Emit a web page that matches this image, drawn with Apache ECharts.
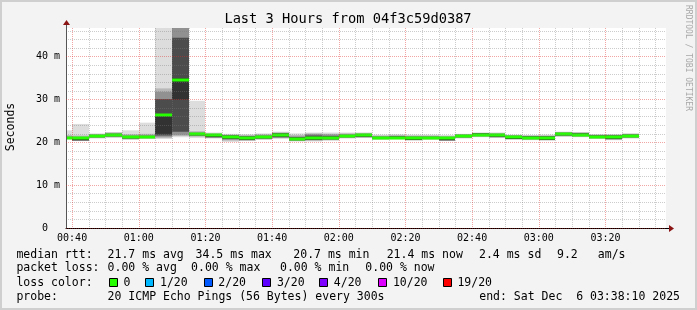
<!DOCTYPE html>
<html><head><meta charset="utf-8">
<script src="https://cdn.jsdelivr.net/npm/echarts@6/dist/echarts.min.js"></script>
<style>html,body{margin:0;padding:0;background:#f3f3f3}#main{width:697px;height:310px}</style>
</head><body><div id="main"></div>
<script>
// ---------- data ----------
const timeStart = "00:38:10";
const timeEnd = "03:38:10";
const binEnd = ["00:40","00:45","00:50","00:55","01:00","01:05","01:10","01:15","01:20","01:25",
  "01:30","01:35","01:40","01:45","01:50","01:55","02:00","02:05","02:10","02:15",
  "02:20","02:25","02:30","02:35","02:40","02:45","02:50","02:55","03:00","03:05",
  "03:10","03:15","03:20","03:25","03:30"];
const median = [21.0,21.0,21.5,21.8,21.2,21.2,26.4,34.5,21.9,21.6,
  21.3,21.1,21.2,21.8,20.7,21.0,21.0,21.4,21.6,21.0,
  21.1,21.0,21.0,20.9,21.4,21.8,21.6,21.2,21.1,21.1,
  21.9,21.8,21.3,21.3,21.5];
// sorted ping quantiles per bin (ms), lowest to highest
const smoke = [
  [20.7,20.8,20.8,20.9,20.9,21.1,21.2,21.4,21.7,22.8],
  [20.3,20.4,20.4,20.5,20.5,21.1,21.2,21.3,21.6,24.3],
  [20.9,21.0,21.1,21.2,21.3,21.6,21.7,21.8,21.9,22.1],
  [21.0,21.2,21.3,21.4,21.5,21.9,22.0,22.1,22.3,22.4],
  [20.6,20.7,20.8,20.9,21.0,21.4,21.5,21.6,21.9,22.8],
  [20.8,20.9,21.0,21.0,21.1,21.4,21.5,21.7,22.0,24.6],
  [20.8,21.0,21.3,21.6,22.0,26.6,30.1,31.8,32.6,48.0],
  [21.2,21.5,21.8,22.5,30.0,35.0,44.4,48.0,48.0,48.0],
  [21.0,21.3,21.5,21.6,21.7,22.1,22.2,22.3,22.6,29.7],
  [20.9,21.0,21.1,21.2,21.3,21.7,21.8,21.9,22.1,22.3],
  [20.1,20.4,20.6,20.8,20.9,21.5,21.6,21.7,21.8,22.0],
  [20.3,20.4,20.5,20.6,20.6,21.3,21.4,21.5,21.7,21.9],
  [20.6,20.7,20.8,20.9,21.0,21.4,21.5,21.7,21.9,22.1],
  [20.8,21.0,21.1,21.2,21.4,22.0,22.1,22.2,22.3,22.5],
  [20.2,20.3,20.4,20.5,20.6,21.1,21.2,21.4,21.7,22.1],
  [20.2,20.4,20.5,20.6,20.6,21.2,21.6,21.9,22.1,22.3],
  [20.4,20.5,20.6,20.7,20.8,21.2,21.5,21.8,22.0,22.3],
  [20.9,21.0,21.1,21.2,21.3,21.6,21.7,21.9,22.1,22.3],
  [21.0,21.1,21.2,21.3,21.4,21.8,21.9,22.0,22.2,22.3],
  [20.6,20.7,20.8,20.8,20.9,21.2,21.3,21.4,21.6,21.8],
  [20.7,20.8,20.9,20.9,21.0,21.3,21.4,21.5,21.7,21.9],
  [20.4,20.5,20.6,20.6,20.6,21.2,21.3,21.4,21.6,21.8],
  [20.6,20.7,20.8,20.8,20.9,21.2,21.3,21.4,21.6,21.8],
  [20.3,20.4,20.5,20.5,20.5,21.1,21.2,21.3,21.5,21.7],
  [20.9,21.0,21.1,21.2,21.3,21.6,21.7,21.8,21.9,22.0],
  [21.2,21.3,21.4,21.5,21.6,22.0,22.1,22.1,22.2,22.3],
  [21.0,21.1,21.2,21.3,21.4,21.8,21.9,22.0,22.2,22.3],
  [20.6,20.7,20.8,20.8,20.8,21.4,21.5,21.6,21.7,21.8],
  [20.5,20.6,20.7,20.8,20.9,21.3,21.4,21.5,21.6,21.7],
  [20.4,20.5,20.6,20.6,20.6,21.3,21.4,21.5,21.6,21.8],
  [21.3,21.4,21.5,21.6,21.7,22.1,22.2,22.3,22.4,22.5],
  [21.2,21.3,21.4,21.5,21.6,22.0,22.1,22.2,22.3,22.4],
  [20.8,20.9,21.0,21.0,21.1,21.5,21.6,21.7,21.8,21.9],
  [20.5,20.6,20.7,20.8,20.9,21.5,21.6,21.7,21.8,21.9],
  [20.9,21.0,21.1,21.2,21.3,21.7,21.8,21.9,22.0,22.1]
];
const xMajorTicks = ["00:40","01:00","01:20","01:40","02:00","02:20","02:40","03:00","03:20"];
const yMajorTicks = [0,10,20,30,40];
const yMax = 46.7;
const stepMin = 5;
const lossLabels = ["0","1/20","2/20","3/20","4/20","10/20","19/20"];
const lossColors = ["#26ff00","#00b8ff","#0059ff","#5e00ff","#7e00ff","#dd00ff","#ff0000"];
const rttStats = ["21.7 ms avg","34.5 ms max","20.7 ms min","21.4 ms now","2.4 ms sd","9.2","am/s"];
const lossStats = ["0.00 % avg","0.00 % max","0.00 % min","0.00 % now"];
const titleText = "Last 3 Hours from 04f3c59d0387";
const probeText = "20 ICMP Echo Pings (56 Bytes) every 300s";
const endText = "end: Sat Dec  6 03:38:10 2025";
// ---------- helpers ----------
function toMin(s){const p=s.split(':').map(Number);return p[0]*60+p[1]+(p[2]||0)/60;}
function fmtMin(v){const h=Math.floor(v/60),m=Math.round(v-h*60);return String(h).padStart(2,'0')+':'+String(m).padStart(2,'0');}
const xMin = toMin(timeStart), xMax = toMin(timeEnd);
const xMajor = xMajorTicks.map(toMin);
const xMinor = []; for(let t=40;t<xMax;t+=stepMin){ if(xMajor.indexOf(t)<0) xMinor.push(t); }
const yMinor = []; for(let v=2;v<yMax;v+=2){ if(v%10!==0) yMinor.push(v); }
const bandColors = ['#dddddd','#b7b7b7','#919191','#4c4c4c','#323232'];
const L=66,T=28,W=600,H=200;
const MONO='"DejaVu Sans Mono"';
const minorGrid={show:true,lineStyle:{color:'rgba(120,120,120,0.38)',width:1,type:[1,1]}};
const majorGrid={show:true,lineStyle:{color:'rgba(225,40,40,0.42)',width:1,type:[1,1]}};

const chart = echarts.init(document.getElementById('main'));
const data = binEnd.map((t,i)=>[toMin(t), median[i]]);

const graphic = [];
// frame
graphic.push({type:'rect',shape:{x:1,y:1,width:695,height:308},style:{fill:null,stroke:'#cfcfcf',lineWidth:2},z:100});
// title
graphic.push({type:'text',x:348,y:19,style:{text:titleText,font:'13.7px '+MONO,fill:'#000',align:'center',verticalAlign:'middle'},z:100});
// y name
graphic.push({type:'text',x:11,y:127,rotation:Math.PI/2,style:{text:'Seconds',font:'11.5px '+MONO,fill:'#000',align:'center',verticalAlign:'middle'},z:100});
// watermark
graphic.push({type:'text',x:688,y:58,rotation:-Math.PI/2,style:{text:'RRDTOOL / TOBI OETIKER',font:'8px '+MONO,fill:'#a8a8a8',align:'center',verticalAlign:'middle'},z:100});
// axis extensions & arrows
graphic.push({type:'line',shape:{x1:L+W,y1:T+H+0.5,x2:L+W+4,y2:T+H+0.5},style:{stroke:'#000',lineWidth:1},z:100});
graphic.push({type:'polygon',shape:{points:[[L+W+3,T+H-3],[L+W+8,T+H+0.5],[L+W+3,T+H+4]]},style:{fill:'#8b1414'},z:100});
graphic.push({type:'line',shape:{x1:L+0.5,y1:T,x2:L+0.5,y2:T-4},style:{stroke:'#555',lineWidth:1},z:100});
graphic.push({type:'polygon',shape:{points:[[L-3,T-3],[L+0.5,T-8],[L+4,T-3]]},style:{fill:'#8b1414'},z:100});
// legend lines
const font='11.5px '+MONO;
function txt(s,x,y,align){graphic.push({type:'text',x:x,y:y,style:{text:s,font:font,fill:'#000',align:align||'left',verticalAlign:'middle'},z:100});}
const ly=[254.7,268.5,282.7,296.7];
txt('median rtt:',16.4,ly[0]);
[107.6,195.6,293.3,386.7,479,557,597.8].forEach((x,i)=>txt(rttStats[i],x,ly[0]));
txt('packet loss:',16.4,ly[1]);
[107.6,191.1,280,365.3].forEach((x,i)=>txt(lossStats[i],x,ly[1]));
txt('loss color:',16.4,ly[2]);
const boxX=[108.9,145.3,203.6,262.2,319.1,378.2,442.7];
lossLabels.forEach((lab,i)=>{
  graphic.push({type:'rect',shape:{x:Math.round(boxX[i])+0.5,y:278.5,width:8,height:8},style:{fill:lossColors[i],stroke:'#000',lineWidth:1},z:100});
  txt(lab,boxX[i]+14.7,ly[2]);
});
txt('probe:',16.4,ly[3]);
txt(probeText,107.6,ly[3]);
txt(endText,680,ly[3],'right');

const axisFont={fontFamily:MONO,fontSize:10,color:'#000'};
chart.setOption({
  backgroundColor:'#f3f3f3',
  animation:false,
  grid:{left:L,top:T,width:W,height:H,show:true,backgroundColor:'#ffffff',borderWidth:0,containLabel:false,outerBoundsMode:'none'},
  xAxis:[
    {type:'value',min:xMin,max:xMax,position:'bottom',z:5,
     axisLine:{show:true,onZero:false,lineStyle:{color:'#000',width:1}},
     axisTick:{show:false,customValues:xMinor},axisLabel:{show:false},splitLine:minorGrid},
    {type:'value',min:xMin,max:xMax,position:'bottom',offset:0,z:6,
     axisLine:{show:false},axisTick:{show:false,customValues:xMajor},
     axisLabel:{show:true,customValues:xMajor,margin:5,formatter:fmtMin,...axisFont},splitLine:majorGrid}
  ],
  yAxis:[
    {type:'value',min:0,max:yMax,position:'left',z:5,
     axisLine:{show:true,onZero:false,lineStyle:{color:'#555',width:1}},
     axisTick:{show:false,customValues:yMinor},axisLabel:{show:false},splitLine:minorGrid},
    {type:'value',min:0,max:yMax,position:'left',offset:0,z:6,
     axisLine:{show:false},axisTick:{show:false,customValues:yMajorTicks},
     axisLabel:{show:true,customValues:yMajorTicks,margin:6,formatter:v=>v===0?'0  ':v+' m',...axisFont},splitLine:majorGrid}
  ],
  series:[{
    type:'custom',xAxisIndex:0,yAxisIndex:0,z:2,
    data:data,encode:{x:0,y:1},
    renderItem:function(params,api){
      const i=params.dataIndex, cs=params.coordSys;
      const tEnd=api.value(0);
      const x1=Math.round(Math.max(api.coord([tEnd-stepMin,0])[0],cs.x));
      const x2=Math.round(Math.min(api.coord([tEnd,0])[0],cs.x+cs.width));
      const s=smoke[i], ch=[];
      for(let k=0;k<5;k++){
        const yHi=Math.max(api.coord([tEnd,s[9-k]])[1],cs.y);
        const yLo=api.coord([tEnd,s[k]])[1];
        ch.push({type:'rect',shape:{x:x1,y:yHi,width:x2-x1,height:Math.max(yLo-yHi,0)},style:{fill:bandColors[k]}});
      }
      const ym=api.coord([tEnd,api.value(1)])[1];
      ch.push({type:'rect',shape:{x:x1,y:Math.round(ym)-1.5,width:x2-x1,height:3},style:{fill:lossColors[0]}});
      return {type:'group',children:ch};
    }
  }],
  graphic:graphic
});
</script></body></html>
